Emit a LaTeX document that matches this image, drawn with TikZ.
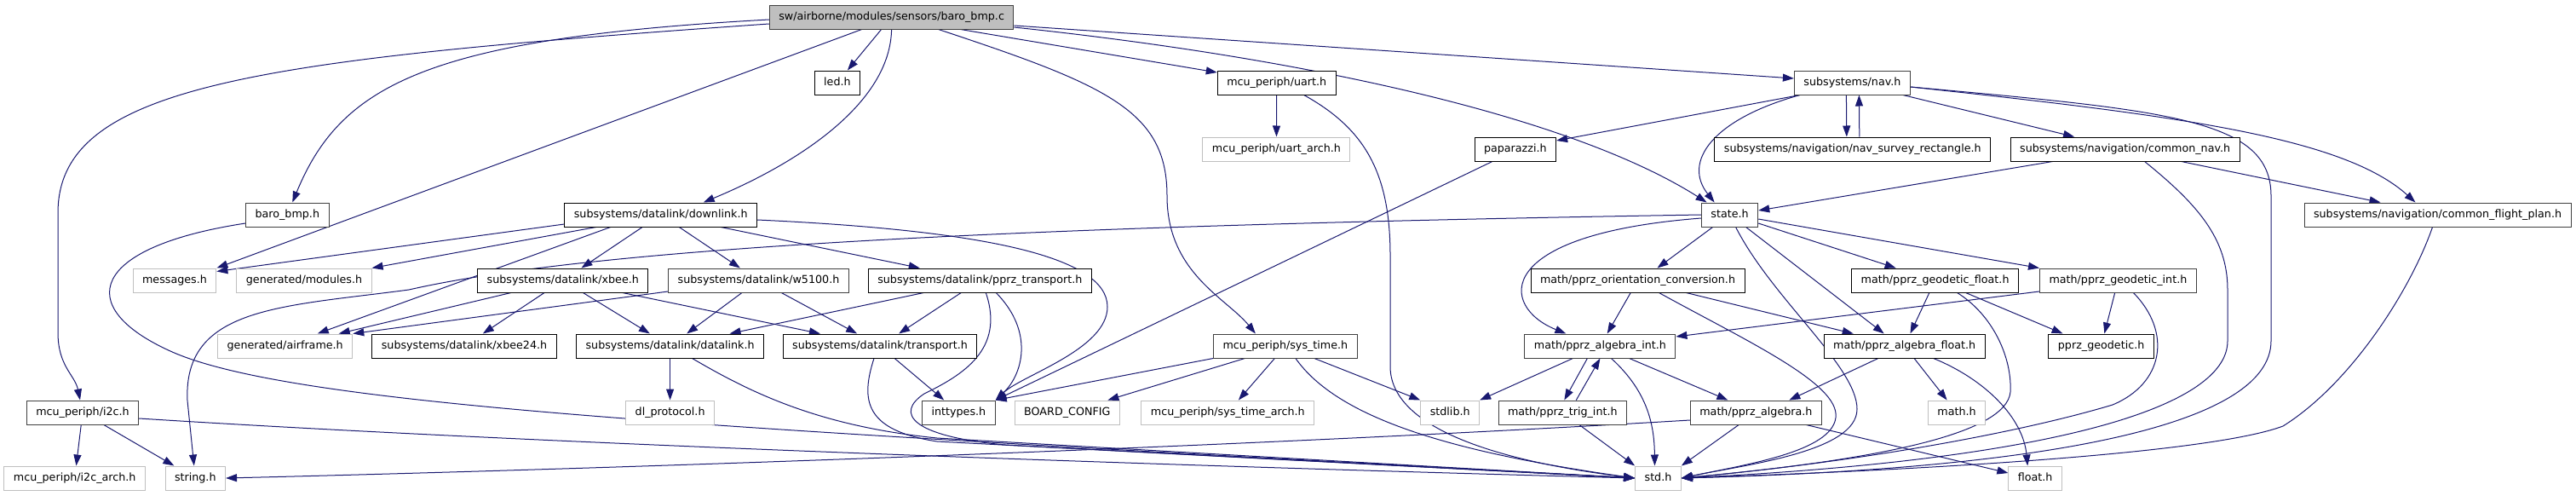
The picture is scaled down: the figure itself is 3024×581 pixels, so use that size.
\documentclass[tikz,border=0pt]{standalone}
\usepackage{fontspec}
\setmainfont{DejaVu Sans}
\usepackage{tikz}
\usetikzlibrary{arrows.meta, backgrounds}
\definecolor{edgeblue}{HTML}{191970}
\definecolor{grey75}{HTML}{BFBFBF}
\definecolor{grey25}{HTML}{404040}

\begin{document}
\begin{tikzpicture}[x=1pt, y=-1pt,
    incbox/.style={draw=black, fill=white, line width=1pt, font=\fontsize{12.7}{15}\selectfont, inner xsep=11pt, inner ysep=0pt, minimum height=28pt, text height=9.5pt, text depth=3pt},
    darkbox/.style={incbox, draw=grey25},
    extbox/.style={incbox, draw=grey75},
    mainbox/.style={incbox, draw=grey25, fill=grey75},
    inc/.style={draw=edgeblue, line width=1pt, -{Triangle[length=13pt, width=9pt]}}]

    \useasboundingbox (0,0) rectangle (3024,581);

    \node[mainbox] (main) at (1046.6,20) {sw/airborne/modules/sensors/baro\_bmp.c};
    \node[incbox] (led) at (982.9,97) {led.h};
    \node[incbox] (uart) at (1498.7,97) {mcu\_periph/uart.h};
    \node[darkbox] (nav) at (2174.4,97) {subsystems/nav.h};
    \node[extbox] (uartarch) at (1498.4,175) {mcu\_periph/uart\_arch.h};
    \node[incbox] (paparazzi) at (1778.8,175) {paparazzi.h};
    \node[incbox] (survey) at (2174.8,175) {subsystems/navigation/nav\_survey\_rectangle.h};
    \node[incbox] (commonnav) at (2494.6,175) {subsystems/navigation/common\_nav.h};
    \node[darkbox] (baro) at (337.3,252) {baro\_bmp.h};
    \node[incbox] (downlink) at (775.7,252) {subsystems/datalink/downlink.h};
    \node[darkbox] (state) at (2030.6,252) {state.h};
    \node[darkbox] (flightplan) at (2861.5,252) {subsystems/navigation/common\_flight\_plan.h};
    \node[extbox] (messages) at (205,329) {messages.h};
    \node[extbox] (modules) at (357,329) {generated/modules.h};
    \node[incbox] (xbee) at (660.8,329) {subsystems/datalink/xbee.h};
    \node[darkbox] (w5100) at (890.5,329) {subsystems/datalink/w5100.h};
    \node[incbox] (pprztrans) at (1150.3,329) {subsystems/datalink/pprz\_transport.h};
    \node[incbox] (orient) at (1922.5,329) {math/pprz\_orientation\_conversion.h};
    \node[incbox] (geofloat) at (2271.6,329) {math/pprz\_geodetic\_float.h};
    \node[darkbox] (geoint) at (2486.4,329) {math/pprz\_geodetic\_int.h};
    \node[extbox] (airframe) at (334.7,406) {generated/airframe.h};
    \node[incbox] (xbeetwo) at (545,406) {subsystems/datalink/xbee24.h};
    \node[incbox] (datalink) at (786.6,406) {subsystems/datalink/datalink.h};
    \node[incbox] (transport) at (1033,406) {subsystems/datalink/transport.h};
    \node[darkbox] (systime) at (1508.9,406) {mcu\_periph/sys\_time.h};
    \node[darkbox] (algint) at (1878.4,406) {math/pprz\_algebra\_int.h};
    \node[incbox] (algfloat) at (2235.7,406) {math/pprz\_algebra\_float.h};
    \node[incbox] (geodetic) at (2466.6,406) {pprz\_geodetic.h};
    \node[darkbox] (i2c) at (97,484) {mcu\_periph/i2c.h};
    \node[extbox] (dlproto) at (786.6,484) {dl\_protocol.h};
    \node[darkbox] (inttypes) at (1125.4,484) {inttypes.h};
    \node[extbox] (board) at (1252.8,484) {BOARD\_CONFIG};
    \node[extbox] (systimearch) at (1441.3,484) {mcu\_periph/sys\_time\_arch.h};
    \node[extbox] (stdlib) at (1702.2,484) {stdlib.h};
    \node[darkbox] (trigint) at (1834.3,484) {math/pprz\_trig\_int.h};
    \node[darkbox] (algebra) at (2061.4,484) {math/pprz\_algebra.h};
    \node[extbox] (mathh) at (2297,484) {math.h};
    \node[extbox] (i2carch) at (87.7,561) {mcu\_periph/i2c\_arch.h};
    \node[extbox] (stringh) at (229.3,561) {string.h};
    \node[extbox] (stdh) at (1946.5,561) {std.h};
    \node[extbox] (floath) at (2389.2,561) {float.h};

    \begin{scope}[on background layer]
    % baro_bmp.c
    \draw[inc] ([yshift=-8pt]main.west) .. controls (300,70) and (68,100) .. (68,250) -- (68,390) .. controls (68,430) and (88,440) .. (i2c);
    \draw[inc] ([yshift=-3pt]main.west) .. controls (500,45) and (400,100) .. (baro);
    \draw[inc] ([xshift=-35pt]main.south) -- (messages.north east);
    \draw[inc] (main) -- (led);
    \draw[inc] (main.south) .. controls (1045,120) and (940,190) .. ([xshift=50pt]downlink.north);
    \draw[inc] ([xshift=55pt]main.south) .. controls (1300,100) and (1370,130) .. (1370,230) .. controls (1370,320) and (1440,350) .. ([xshift=-35pt]systime.north);
    \draw[inc] ([xshift=81pt]main.south) -- ([yshift=12pt]uart.west);
    \draw[inc] ([yshift=-10pt]main.east) -- ([yshift=5pt]nav.west);
    \draw[inc] ([yshift=-12pt]main.east) .. controls (1550,70) and (1850,140) .. ([xshift=-27pt]state.north);

    \draw[inc] ([yshift=-10pt]baro.west) .. controls (105,290) and (85,360) .. (200,412) .. controls (350,480) and (900,505) .. (stdh.west);

    \draw[inc] (uart) -- (uartarch);
    \draw[inc] ([xshift=32pt]uart.south) .. controls (1600,150) and (1632,200) .. (1632,300) -- (1632,430) .. controls (1632,500) and (1750,540) .. (stdh.west);

    % downlink
    \draw[inc] ([yshift=-11pt]downlink.west) -- ([yshift=-4pt]messages.north east);
    \draw[inc] ([xshift=-76pt]downlink.south) -- (modules.north east);
    \draw[inc] ([xshift=-59pt]downlink.south) -- ([xshift=38pt]airframe.north);
    \draw[inc] (downlink) -- (xbee);
    \draw[inc] (downlink) -- (w5100);
    \draw[inc] (downlink) -- (pprztrans);
    \draw[inc] ([yshift=-6pt]downlink.east) .. controls (1150,270) and (1300,300) .. (1300,360) .. controls (1300,410) and (1200,440) .. (inttypes.north east);

    \draw[inc] (i2c) -- (i2carch);
    \draw[inc] (i2c) -- (stringh);
    \draw[inc] ([yshift=-7pt]i2c.east) .. controls (700,525) and (1500,550) .. (stdh.west);

    % datalink
    \draw[inc] ([xshift=-61pt]xbee.south) -- ([xshift=63pt]airframe.north);
    \draw[inc] (xbee) -- (xbeetwo);
    \draw[inc] (xbee) -- (datalink);
    \draw[inc] (xbee) -- (transport);
    \draw[inc] ([yshift=-13pt]w5100.west) -- (airframe.north east);
    \draw[inc] (w5100) -- (datalink);
    \draw[inc] (w5100) -- (transport);
    \draw[inc] ([xshift=-66pt]pprztrans.south) -- ([xshift=70pt]datalink.north);
    \draw[inc] (pprztrans) -- (transport);
    \draw[inc] ([xshift=19pt]pprztrans.south) .. controls (1215,390) and (1200,440) .. (inttypes.north east);
    \draw[inc] ([xshift=7pt]pprztrans.south) .. controls (1180,410) and (1130,440) .. (1085,462) .. controls (1050,485) and (1070,512) .. (1180,522) -- (stdh.west);
    \draw[inc] (datalink) -- (dlproto);
    \draw[inc] ([xshift=26pt]datalink.south) .. controls (880,460) and (960,500) .. (1100,514) -- (stdh.west);
    \draw[inc] (transport) -- (inttypes);
    \draw[inc] ([xshift=-7pt]transport.south) .. controls (1010,470) and (1015,505) .. (1100,518) -- (stdh.west);

    % sys_time
    \draw[inc] (systime.south west) -- (inttypes.north east);
    \draw[inc] (systime) -- (board);
    \draw[inc] (systime) -- (systimearch);
    \draw[inc] ([xshift=34pt]systime.south) -- (stdlib.north west);
    \draw[inc] ([xshift=12pt]systime.south) .. controls (1570,490) and (1700,530) .. (stdh.west);

    \draw[inc] ([xshift=-27pt]paparazzi.south) -- (inttypes.north east);

    % nav
    \draw[inc] ([xshift=7pt]nav.south west) -- ([yshift=10pt]paparazzi.east);
    \draw[inc] ([xshift=7pt]nav.south west) .. controls (2010,140) and (1975,190) .. ([xshift=-18pt]state.north);
    \draw[inc] ([xshift=-7pt]nav.south) -- ([xshift=-7pt]survey.north);
    \draw[inc] ([xshift=8pt]survey.north) -- ([xshift=8pt]nav.south);
    \draw[inc] (nav) -- (commonnav);
    \draw[inc] ([yshift=-5pt]nav.east) .. controls (2550,135) and (2750,160) .. ([xshift=-26pt]flightplan.north);
    \draw[inc] ([yshift=-5pt]nav.east) .. controls (2550,130) and (2666,140) .. (2666,230) -- (2666,400) .. controls (2666,500) and (2400,550) .. (stdh.east);
    \draw[inc] ([xshift=-85pt]commonnav.south) -- ([yshift=5pt]state.east);
    \draw[inc] ([xshift=66pt]commonnav.south) -- ([xshift=-67pt]flightplan.north);
    \draw[inc] ([xshift=23pt]commonnav.south) .. controls (2580,240) and (2615,280) .. (2615,340) -- (2615,400) .. controls (2615,480) and (2400,540) .. (stdh.east);
    \draw[inc] ([xshift=-6pt]flightplan.south) .. controls (2830,340) and (2760,450) .. (2680,500) .. controls (2600,530) and (2300,550) .. (stdh.east);

    % state
    \draw[inc] (state.west) .. controls (1200,265) and (700,290) .. (480,340) .. controls (330,360) and (215,360) .. (220,470) -- (stringh);
    \draw[inc] ([yshift=-4pt]state.west) .. controls (1750,275) and (1760,360) .. ([xshift=-40pt]algint.north);
    \draw[inc] ([xshift=-20pt]state.south) -- ([xshift=23pt]orient.north);
    \draw[inc] ([xshift=7pt]state.south) .. controls (2080,350) and (2180,430) .. (2180,480) .. controls (2180,530) and (2050,545) .. (stdh.east);
    \draw[inc] ([xshift=19pt]state.south) -- ([xshift=-24pt]algfloat.north);
    \draw[inc] ([yshift=-10pt]state.east) -- ([xshift=-46pt]geofloat.north);
    \draw[inc] ([yshift=-5pt]state.east) -- (geoint.north west);

    % math
    \draw[inc] (orient) -- (algint);
    \draw[inc] ([xshift=25pt]orient.south) .. controls (2050,400) and (2160,450) .. (2155,490) .. controls (2150,530) and (2050,545) .. (stdh.east);
    \draw[inc] ([xshift=57pt]orient.south) -- ([xshift=-60pt]algfloat.north);
    \draw[inc] (geofloat) -- (algfloat);
    \draw[inc] ([xshift=36pt]geofloat.south) -- ([xshift=-45pt]geodetic.north);
    \draw[inc] ([xshift=26pt]geofloat.south) .. controls (2340,370) and (2362,420) .. (2360,460) .. controls (2355,510) and (2200,540) .. (stdh.east);
    \draw[inc] ([yshift=-13pt]geoint.west) -- ([yshift=11pt]algint.east);
    \draw[inc] (geoint) -- (geodetic);
    \draw[inc] ([xshift=18pt]geoint.south) .. controls (2550,390) and (2540,450) .. (2480,475) .. controls (2380,505) and (2200,540) .. (stdh.east);
    \draw[inc] ([xshift=-32pt]algint.south) -- (stdlib.north east);
    \draw[inc] ([xshift=-15pt]algint.south) -- ([xshift=2pt]trigint.north);
    \draw[inc] ([xshift=16pt]trigint.north) -- (algint.south);
    \draw[inc] ([xshift=13pt]algint.south) .. controls (1935,460) and (1942,500) .. ([xshift=-4pt]stdh.north);
    \draw[inc] (algint) -- ([xshift=-33pt]algebra.north);
    \draw[inc] (trigint) -- (stdh.north west);
    \draw[inc] (algebra) -- (stdh.north east);
    \draw[inc] ([xshift=59pt]algebra.south) -- ([yshift=6pt]floath.west);
    \draw[inc] ([yshift=-9pt]algebra.west) .. controls (1500,522) and (800,548) .. (stringh.east);
    \draw[inc] (algfloat) -- ([xshift=39pt]algebra.north);
    \draw[inc] (algfloat) -- (mathh);
    \draw[inc] ([xshift=34pt]algfloat.south) .. controls (2330,445) and (2375,490) .. ([xshift=-9pt]floath.north);
    \end{scope}
\end{tikzpicture}
\end{document}
